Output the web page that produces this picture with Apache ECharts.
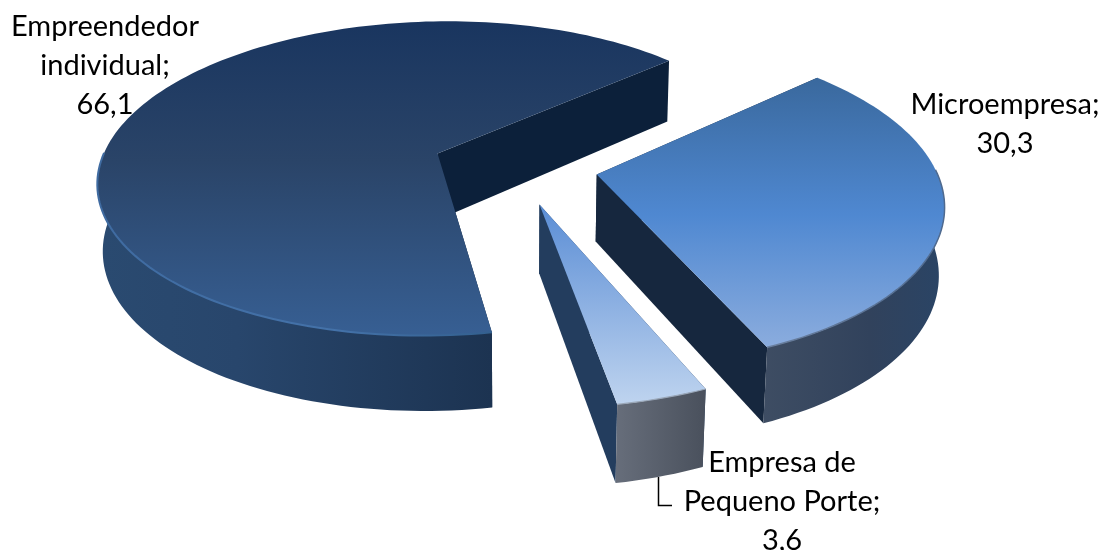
<!DOCTYPE html>
<html>
<head>
<meta charset="utf-8">
<style>html,body{margin:0;padding:0;background:#fff}#c{width:1109px;height:550px}</style>
<script src="https://cdn.jsdelivr.net/npm/echarts@6/dist/echarts.min.js"></script>
</head>
<body>
<div id="c"></div>
<script>
// Participation by company size
const categories = ['Empreendedor\nindividual', 'Microempresa', 'Empresa de\nPequeno Porte'];
const shares = [66.1, 30.3, 3.6];

// Pie geometry and camera for the tilted disc
const view = { cx: 515, cy: 166, radius: 338, tilt: 0.465, persp: 0.16, depth: 67.5, sink: 0.013, explode: 83, startDeg: 80 };

// Appearance of each slice: [offset, colour] stops
const looks = [
  {
    top: [[0, '#19355f'], [0.45, '#2a4468'], [1, '#375f93']], topRange: [20, 335],
    wall: [[0, '#2a4a70'], [0.35, '#28466c'], [1, '#1c3351']], wallRange: [100, 492],
    cut: '#0c203a', rim: [[0, '#3f6ba1'], [0.6, '#4472a9'], [1, '#33608f']], rimRange: [100, 492],
    rimWidth: 2, cutIndex: 1, labelAt: [105, 66]
  },
  {
    top: [[0, '#3a699e'], [0.5, '#4f88d1'], [1, '#8cadde']], topRange: [80, 350],
    wall: [[0, '#3e4d63'], [0.6, '#31425c'], [1, '#2a4465']], wallRange: [762, 942],
    cut: '#16273e', rim: [[0, '#6a7f9e'], [1, '#4f6a8f']], rimRange: [762, 942],
    rimWidth: 1.5, cutIndex: 1, labelAt: [1005, 124]
  },
  {
    top: [[0, '#5a8dd5'], [1, '#bfd4ef']], topRange: [205, 405],
    wall: [[0, '#686f7c'], [1, '#4a515d']], wallRange: [612, 704],
    cut: '#233d5e', rim: [[0, '#9aa7b8'], [1, '#9aa7b8']], rimRange: [612, 704],
    rimWidth: 1.2, cutIndex: 0, labelAt: [782, 502]
  }
];

const total = shares.reduce((a, b) => a + b, 0);
const toRad = d => d * Math.PI / 180;

function project(x, y, z) {
  const w = 1 - view.persp * y / view.radius + view.sink * z;
  return [view.cx + x / w, view.cy + (view.tilt * y + view.depth * z) / w];
}

function gradient(x0, y0, x1, y1, stops) {
  return new echarts.graphic.LinearGradient(x0, y0, x1, y1,
    stops.map(s => ({ offset: s[0], color: s[1] })), true);
}

function sweepOf(index) {
  let start = view.startDeg;
  for (let i = 0; i < index; i++) start += shares[i] / total * 360;
  return [start, start + shares[index] / total * 360];
}

function renderSlice(params, api) {
  const i = params.dataIndex;
  const look = looks[i];
  const [a0, a1] = sweepOf(i);
  const mid = toRad((a0 + a1) / 2);
  const ox = view.explode * Math.cos(mid);
  const oy = view.explode * Math.sin(mid);
  const rimAt = (deg, z) => project(
    ox + view.radius * Math.cos(toRad(deg)),
    oy + view.radius * Math.sin(toRad(deg)), z);

  const topRim = [], wallTop = [], wallLow = [];
  const steps = Math.max(8, Math.round((a1 - a0) / 1.5));
  for (let s = 0; s <= steps; s++) {
    const d = a0 + (a1 - a0) * s / steps;
    topRim.push(rimAt(d, 0));
    // Only the stretch of rim facing the viewer shows an outer wall
    if (Math.sin(toRad(d)) > -0.03) {
      wallTop.push(rimAt(d, 0));
      wallLow.push(rimAt(d, 1));
    }
  }
  const apexTop = project(ox, oy, 0);
  const apexLow = project(ox, oy, 1);

  const children = [
    {
      type: 'polygon',
      shape: { points: [apexTop, rimAt(a0, 0), rimAt(a0, 1), apexLow] },
      style: { fill: look.cut }
    },
    {
      type: 'polygon',
      shape: { points: [apexTop, rimAt(a1, 0), rimAt(a1, 1), apexLow] },
      style: { fill: look.cut }
    },
    {
      type: 'polygon',
      shape: { points: wallTop.concat(wallLow.slice().reverse()) },
      style: { fill: gradient(look.wallRange[0], 0, look.wallRange[1], 0, look.wall) }
    },
    {
      type: 'polygon',
      shape: { points: [apexTop].concat(topRim) },
      style: { fill: gradient(0, look.topRange[0], 0, look.topRange[1], look.top) }
    },
    {
      type: 'polyline',
      shape: { points: wallTop },
      style: {
        fill: null,
        stroke: gradient(look.rimRange[0], 0, look.rimRange[1], 0, look.rim),
        lineWidth: look.rimWidth
      }
    },
    {
      type: 'text',
      style: {
        text: categories[i] + ';\n' + String(api.value(0)).replace('.', ','),
        x: look.labelAt[0], y: look.labelAt[1],
        align: 'center', verticalAlign: 'middle',
        font: '29px Lato, "Open Sans", sans-serif',
        lineHeight: 39, fill: '#000'
      }
    }
  ];
  return { type: 'group', children };
}

const chart = echarts.init(document.getElementById('c'), null, { renderer: 'canvas' });
chart.setOption({
  animation: false,
  backgroundColor: '#ffffff',
  series: [{
    type: 'custom',
    coordinateSystem: 'none',
    renderItem: renderSlice,
    data: shares.map(v => [v]),
    silent: true
  }],
  graphic: [{
    type: 'polyline',
    shape: { points: [[658.5, 477], [658.5, 505.5], [672, 505.5]] },
    style: { fill: null, stroke: '#000', lineWidth: 1.5 },
    silent: true
  }]
});
</script>
</body>
</html>
